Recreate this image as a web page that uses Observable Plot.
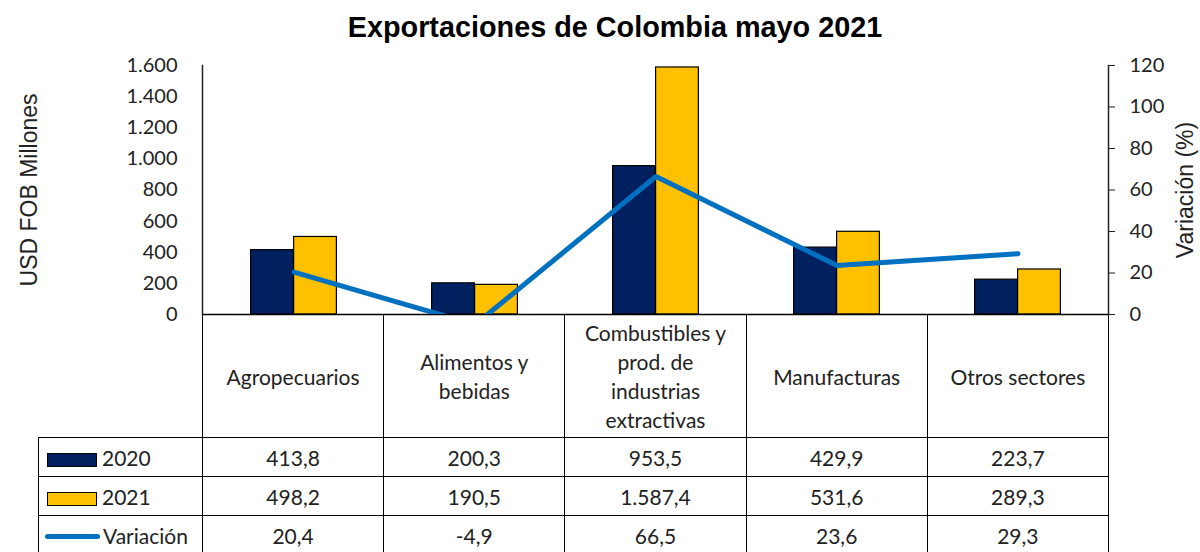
<!DOCTYPE html>
<html><head><meta charset="utf-8">
<script src="https://cdn.jsdelivr.net/npm/d3@7"></script>
<script src="https://cdn.jsdelivr.net/npm/@observablehq/plot@0.6"></script>
<style>
body{margin:0;background:#fff;}
#wrap{position:relative;width:1200px;height:552px;overflow:hidden;background:#fff;}
#wrap svg{position:absolute;left:0;top:0;}
#title{position:absolute;left:0;width:1230px;top:11px;text-align:center;font:bold 28.8px "Liberation Sans",Arial,sans-serif;color:#000;}
#tbl{position:absolute;left:38px;top:314px;border-collapse:collapse;table-layout:fixed;font:21px Lato,sans-serif;color:#222;}
#tbl td{border:1.5px solid #000;text-align:center;padding:0;height:38px;}
#tbl tr.hdr td{height:122px;white-space:pre-line;line-height:29px;}
#tbl tr.hdr td.blank{border-top:none;border-left:none;}
#tbl td.leg{text-align:left;white-space:nowrap;}
.sw{display:inline-block;width:48px;height:12px;border:1px solid #000;margin-left:8px;margin-right:5px;vertical-align:-1px;}
.ln{display:inline-block;width:55px;height:5px;border-radius:3px;margin-left:6px;margin-right:3px;vertical-align:5px;}
g[aria-label="y-axis label"] text{font-family:"Liberation Sans",Arial,sans-serif;font-size:23px;}
</style></head><body><div id="wrap"><div id="title"></div></div>
<script>
const title = "Exportaciones de Colombia mayo 2021";
const categories = ["Agropecuarios", "Alimentos y\nbebidas", "Combustibles y\nprod. de\nindustrias\nextractivas", "Manufacturas", "Otros sectores"];
const values2020 = [413.8, 200.3, 953.5, 429.9, 223.7];
const values2021 = [498.2, 190.5, 1587.4, 531.6, 289.3];
const variacion = [20.4, -4.9, 66.5, 23.6, 29.3];
const seriesNames = ["2020", "2021", "Variación"];
const seriesColors = ["#002060", "#FFC000", "#0070C0"];
const leftTicks = [0, 200, 400, 600, 800, 1000, 1200, 1400, 1600];
const rightTicks = [0, 20, 40, 60, 80, 100, 120];
const leftLabel = "USD FOB Millones";
const rightLabel = "Variación (%)";

const W = 1200, H = 552, mL = 202, mR = 92, mT = 65, mB = 238;
const bw = (W - mL - mR) / categories.length;
const barW = 43;
const yMax = leftTicks[leftTicks.length - 1];
const rMax = rightTicks[rightTicks.length - 1];
const k = yMax / rMax;

const loc = d3.formatLocale({decimal: ",", thousands: ".", grouping: [3], currency: ["", ""], minus: "-"});
const fmtInt = loc.format(",");
const fmt1 = loc.format(",.1f");

const d20 = categories.map((c, i) => ({cat: c, v: values2020[i]}));
const d21 = categories.map((c, i) => ({cat: c, v: values2021[i]}));
const dv = categories.map((c, i) => ({cat: c, v: variacion[i]}));

const plot = Plot.plot({
  width: W, height: H,
  marginTop: mT, marginBottom: mB, marginLeft: mL, marginRight: mR,
  style: {fontFamily: "Lato, sans-serif", fontSize: "20px", color: "#222", background: "transparent", overflow: "visible"},
  x: {domain: categories, padding: 0, axis: null},
  y: {domain: [0, yMax]},
  marks: [
    Plot.barY(d20, {x: "cat", y: "v", fill: seriesColors[0], stroke: "#000", strokeWidth: 1.2, insetLeft: bw / 2 - barW, insetRight: bw / 2}),
    Plot.barY(d21, {x: "cat", y: "v", fill: seriesColors[1], stroke: "#000", strokeWidth: 1.2, insetLeft: bw / 2, insetRight: bw / 2 - barW}),
    Plot.ruleY([0], {stroke: "#000", strokeWidth: 1.5}),
    Plot.lineY(dv, {x: "cat", y: d => d.v * k, stroke: seriesColors[2], strokeWidth: 5, clip: true}),
    Plot.axisY({anchor: "left", ticks: leftTicks, tickSize: 0, tickPadding: 25, tickFormat: fmtInt,
      label: leftLabel, labelAnchor: "center", labelOffset: 182, labelArrow: "none"}),
    Plot.axisY({anchor: "right", ticks: rightTicks.map(t => t * k), tickSize: 6, tickPadding: 15,
      tickFormat: d => fmtInt(Math.round(d / k)), label: rightLabel, labelAnchor: "center", labelOffset: 84, labelArrow: "none"}),
    Plot.frame({anchor: "left", strokeWidth: 1.5}),
    Plot.frame({anchor: "right", strokeWidth: 1.5})
  ]
});
const wrap = document.getElementById("wrap");
wrap.insertBefore(plot, wrap.firstChild);
document.getElementById("title").textContent = title;

// data table below the plot
const tbl = document.createElement("table");
tbl.id = "tbl";
const cg = document.createElement("colgroup");
[164, ...categories.map(() => bw)].forEach(w => {
  const col = document.createElement("col"); col.style.width = w + "px"; cg.appendChild(col);
});
tbl.appendChild(cg);
const hdr = tbl.insertRow(); hdr.className = "hdr";
const blank = hdr.insertCell(); blank.className = "blank";
categories.forEach(c => { hdr.insertCell().textContent = c; });
const rows = [values2020, values2021, variacion];
rows.forEach((vals, r) => {
  const tr = tbl.insertRow();
  const lc = tr.insertCell(); lc.className = "leg";
  const sw = document.createElement("span");
  sw.className = r < 2 ? "sw" : "ln";
  sw.style.background = seriesColors[r];
  lc.appendChild(sw);
  lc.appendChild(document.createTextNode(seriesNames[r]));
  vals.forEach(v => { tr.insertCell().textContent = fmt1(v); });
});
wrap.appendChild(tbl);
</script>
</body></html>
